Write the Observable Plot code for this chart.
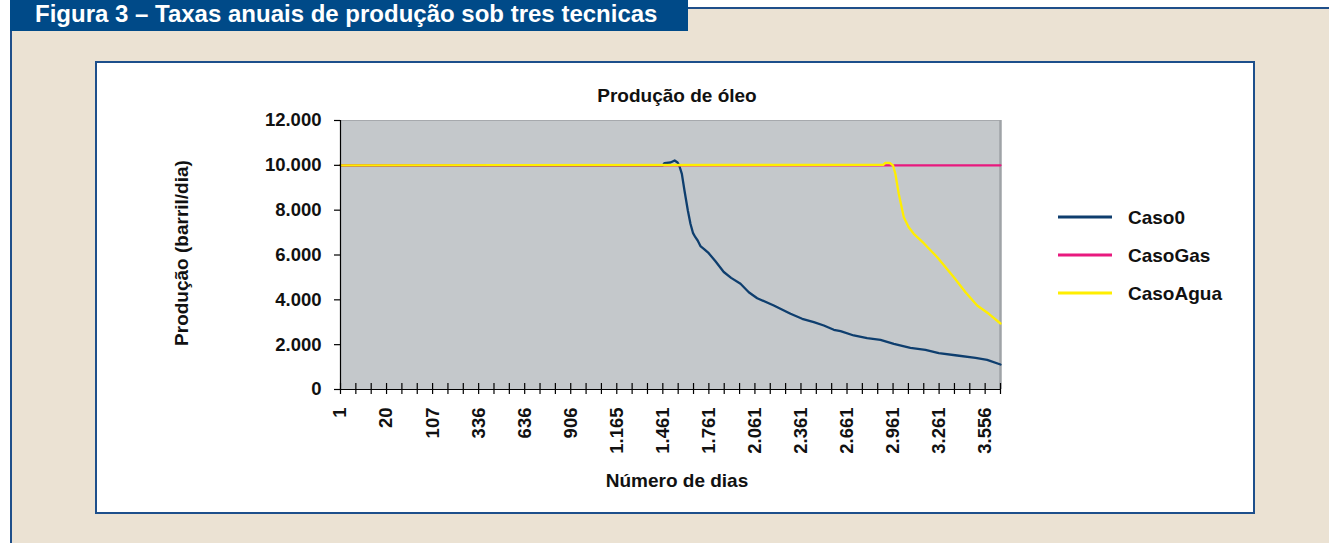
<!DOCTYPE html>
<html><head><meta charset="utf-8">
<script src="https://cdn.jsdelivr.net/npm/d3@7"></script>
<script src="https://cdn.jsdelivr.net/npm/@observablehq/plot@0.6"></script>
<style>
body{margin:0;width:1329px;height:543px;overflow:hidden;background:#fff;font-family:"Liberation Sans",Arial,sans-serif;font-weight:bold;position:relative}
.abs{position:absolute}
</style></head><body>
<div class="abs" style="left:12px;top:9px;width:1317px;height:534px;background:#ebe2d3"></div>
<div class="abs" style="left:10px;top:0;width:2px;height:543px;background:#1f4f8a"></div>
<div class="abs" style="left:688px;top:7px;width:641px;height:2px;background:#1f4f8a"></div>
<div class="abs" style="left:10px;top:0;width:678px;height:31px;background:#004a88"></div>
<div class="abs" style="left:95px;top:61px;width:1160px;height:453px;box-sizing:border-box;border:2.5px solid #1d4f8b;background:#fff"></div>
<div id="chart" class="abs" style="left:0;top:0"></div>
<svg id="deco" class="abs" style="left:0;top:0;overflow:visible" width="1329" height="543"></svg>
<script>
// ---- data ----
const seriesNames = ["Caso0", "CasoGas", "CasoAgua"];
const seriesColors = ["#0e3e6e", "#e8197e", "#ffee00"];
// category axis: 44 tick positions, every 3rd one labelled
const categoryTicks = d3.range(44);
const xLabels = ["1","20","107","336","636","906","1.165","1.461","1.761","2.061","2.361","2.661","2.961","3.261","3.556"];
const xLabelPos = d3.range(0, 43, 3);
const yTicks = [0, 2000, 4000, 6000, 8000, 10000, 12000];
const yLabels = ["0", "2.000", "4.000", "6.000", "8.000", "10.000", "12.000"];

// [category position, barril/dia]
const caso0 = [[0,10000],[21.0,10000],[21.1,10095],[21.5,10127],[21.77,10216],[21.96,10130],[22.09,9948],[22.24,9622],[22.41,8877],[22.63,7985],[22.8,7392],[22.97,6973],[23.12,6794],[23.27,6647],[23.45,6400],[23.67,6277],[23.99,6080],[24.43,5720],[24.97,5242],[25.45,4980],[26.06,4715],[26.6,4341],[27.15,4073],[28.23,3747],[29.32,3377],[30.08,3154],[30.84,3002],[31.49,2855],[32.14,2663],[32.58,2601],[33.44,2409],[34.31,2288],[35.18,2217],[36.05,2039],[37.13,1860],[38.11,1771],[38.98,1619],[40.18,1517],[41.37,1414],[42.13,1325],[43,1115]];
const casoGas = [[0,10000],[43,10000]];
const casoAgua = [[0,10000],[35.36,10020],[35.5,10113],[35.78,10110],[36.0,9993],[36.15,9622],[36.37,8730],[36.7,7686],[37.02,7240],[37.35,6946],[38.0,6526],[38.88,5902],[39.96,5010],[40.72,4341],[41.48,3747],[42.24,3377],[43,2944]];
const seriesData = [caso0, casoGas, casoAgua];

const chart = Plot.plot({
  width: 1329, height: 543,
  marginLeft: 340, marginRight: 329, marginTop: 120, marginBottom: 154,
  style: {background: "transparent", fontFamily: "'Liberation Sans', Arial, sans-serif", fontSize: "18.5px", fontWeight: "bold", color: "#111", overflow: "visible"},
  x: {domain: [0, 43]},
  y: {domain: [0, 12000]},
  marks: [
    Plot.frame({fill: "#c4c8cb", stroke: null}),
    Plot.ruleY([12000], {stroke: "#a6a9ad", strokeWidth: 1}),
    Plot.ruleX([43], {stroke: "#9fa3a7", strokeWidth: 2.5}),
    ...seriesData.map((d, i) => Plot.line(d, {x: p => p[0], y: p => p[1], stroke: seriesColors[i], strokeWidth: 2.3})),
    Plot.ruleX([0], {stroke: "#000", strokeWidth: 1.2}),
    Plot.ruleY([0], {stroke: "#000", strokeWidth: 1.2}),
    Plot.ruleX(categoryTicks, {x: d => d, y1: 0, y2: 0, insetTop: -6, insetBottom: -5, stroke: "#000", strokeWidth: 1.2}),
    Plot.axisY({ticks: yTicks, tickFormat: d => yLabels[yTicks.indexOf(d)], tickSize: 6, tickPadding: 13, label: null, stroke: "#000", strokeWidth: 1.2}),
    Plot.axisX({ticks: xLabelPos, tickFormat: d => xLabels[xLabelPos.indexOf(d)], tickSize: 0, tickPadding: 18, tickRotate: -90, label: null})
  ]
});
document.getElementById("chart").appendChild(chart);

// titles and legend
const deco = d3.select("#deco").style("font-family", "'Liberation Sans', Arial, sans-serif").style("font-weight", "bold").style("font-size", "19px").attr("fill", "#111");
deco.append("text").attr("x", 35).attr("y", 22).attr("fill", "#fff").style("font-size", "24px").text("Figura 3 – Taxas anuais de produção sob tres tecnicas");
deco.append("text").attr("x", 677).attr("y", 102).attr("text-anchor", "middle").text("Produção de óleo");
deco.append("text").attr("x", 677).attr("y", 487).attr("text-anchor", "middle").text("Número de dias");
deco.append("text").attr("transform", "translate(188,253) rotate(-90)").attr("text-anchor", "middle").text("Produção (barril/dia)");
const legY = [217, 255, 293];
seriesNames.forEach((n, i) => {
  deco.append("line").attr("x1", 1058).attr("x2", 1112).attr("y1", legY[i]).attr("y2", legY[i]).attr("stroke", seriesColors[i]).attr("stroke-width", 3);
  deco.append("text").attr("x", 1128).attr("y", legY[i] + 7).text(n);
});
</script>
</body></html>
